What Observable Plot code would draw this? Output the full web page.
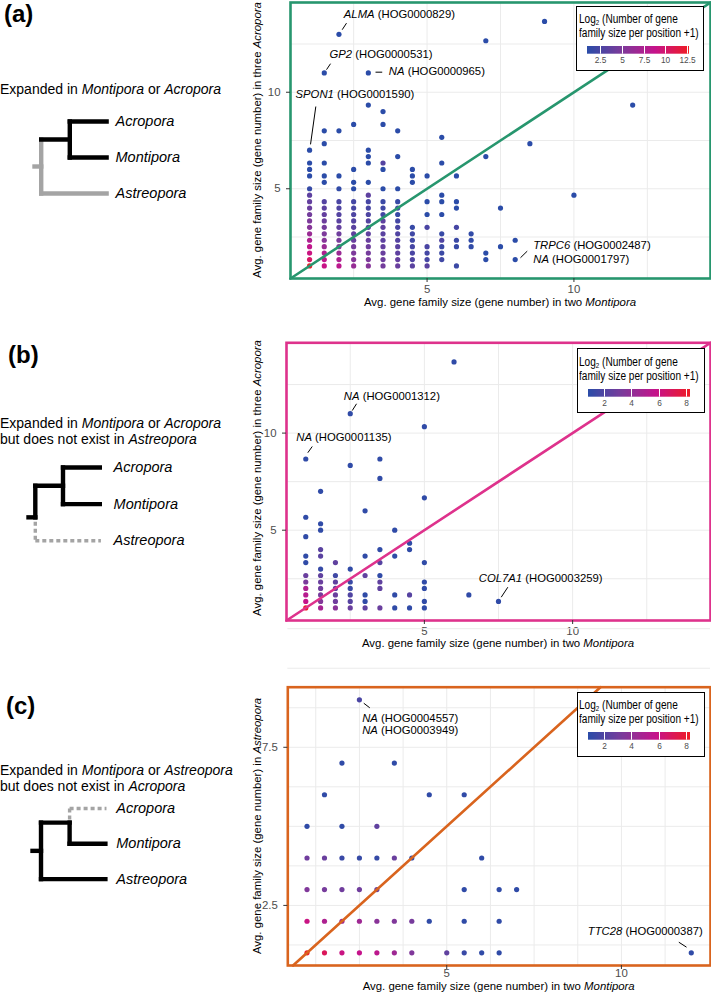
<!DOCTYPE html>
<html><head><meta charset="utf-8">
<script src="https://cdn.jsdelivr.net/npm/d3@7"></script>
<script src="https://cdn.jsdelivr.net/npm/@observablehq/plot@0.6"></script>
<style>
body{margin:0;background:#fff;}
#page{position:relative;width:711px;height:992px;overflow:hidden;font-family:"Liberation Sans",Arial,Helvetica,sans-serif;color:#000;}
.abs{position:absolute;}
.plabel{font-weight:bold;font-size:24px;line-height:24px;}
.desc{font-size:14px;line-height:16.4px;white-space:nowrap;}
.xtitle{font-size:11.4px;line-height:12px;white-space:nowrap;transform:translate(-50%,-50%);}
.ytitle{font-size:11.4px;line-height:13px;white-space:nowrap;transform:translate(-50%,-50%) rotate(-90deg);}
.legbox{border:1.4px solid #000;background:#fff;box-sizing:border-box;}
.legtitle{font-size:12.3px;line-height:14px;white-space:nowrap;transform:scaleX(0.82);transform-origin:0 0;}
.legtitle sub{font-size:0.62em;line-height:0;vertical-align:-0.3em;}
.legbox .tick line{stroke:#fff;}
.legbox .tick text{fill:#4d4d4d;}
.scatter g[aria-label$="tick label"], .scatter g[aria-label$="tick label"] text{fill:#4d4d4d;}
.scatter g[aria-label="x-axis tick"], .scatter g[aria-label="y-axis tick"]{stroke:#333;}
</style>
</head><body><div id="page"></div>
<script>
// ---------- DATA ----------
// Panel (a): x = avg size in two Montipora, y = avg size in three Acropora, v = log2(count+1)
const aCols = [1, 1.5, 2, 2.5, 3, 3.5, 4, 4.5, 5, 5.5, 6, 6.5, 7, 7.5, 8, 8.5, 9, 10, 12];
const aYs = [
  [7, 6.333, 6, 5.667, 5, 4.667, 4.333, 4, 3.667, 3.333, 3, 2.667, 2.333, 2, 1.667, 1.333, 1],
  [11, 8, 7.333, 6.333, 5.667, 5.333, 4.333, 4, 3.667, 3.333, 3, 2.667, 2.333, 2, 1.667, 1.333, 1],
  [13, 8, 5.667, 5, 4.333, 4, 3.667, 3.333, 3, 2.667, 2.333, 2, 1.667, 1.333, 1],
  [8.333, 6, 5.333, 5, 4.333, 4, 3.667, 3.333, 3, 2.667, 2.333, 2, 1.667, 1.333, 1],
  [11, 9.333, 7, 6.667, 6.333, 5.333, 4.667, 4.333, 4, 3.667, 3.333, 3, 2.667, 2.333, 2, 1.667, 1.333, 1],
  [9, 8.333, 6.333, 6, 5, 4.333, 4, 3.667, 3.333, 3, 2.667, 2.333, 2, 1.667, 1.333, 1],
  [8, 6.667, 5, 4.333, 4, 3.667, 3.333, 3, 2.667, 2.333, 2, 1.667, 1.333, 1],
  [6, 5.667, 5.333, 3, 2.667, 2.333, 2, 1.667, 1.333, 1],
  [5.667, 4.333, 3.667, 3, 2, 1.667, 1.333, 1],
  [7.667, 6.333, 4.667, 4.333, 3.667, 2.667, 2.333, 2, 1.667, 1.333],
  [5.667, 4.333, 4, 3, 2.333, 2, 1],
  [2.667, 2.333, 2],
  [12.667, 6.667, 1.667, 1.333],
  [4, 2],
  [2.333, 1.333],
  [7.333],
  [13.667],
  [4.667],
  [9.333]
];
const aVs = [
  [1, 1, 1, 1, 1.5, 3.5, 3.8, 4.1, 4.5, 5, 5.5, 6.5, 7.5, 8.5, 9.2, 10.3, 12.6],
  [1, 1, 1, 1, 1, 1, 3, 3.5, 3.8, 4.2, 4.6, 5, 5.5, 6.5, 7.5, 8.5, 9],
  [1, 1, 1, 1.3, 2.5, 2.8, 3, 3.3, 3.8, 4.3, 4.8, 5.5, 6.5, 7.5, 8.3],
  [1, 1, 1, 1, 2.2, 2.4, 2.7, 3, 3.3, 3.6, 4, 4.5, 5, 5.5, 6.3],
  [1, 1, 1, 1, 1, 1, 3.5, 2.3, 2.4, 2.7, 3, 3.3, 3.6, 4, 4.3, 4.6, 5, 5.5],
  [1, 1, 3, 1, 1, 1.8, 2, 2.2, 3.5, 3.5, 3.3, 3.5, 3.8, 4, 4.2, 4.5],
  [1, 1, 1, 1.6, 2, 1.6, 2.2, 2.5, 2.8, 3, 3.3, 3.5, 3.8, 4],
  [1, 1, 1, 1.6, 2, 2, 2.3, 2.5, 2.8, 3.3],
  [1, 1, 1, 2.5, 2.5, 2.2, 2.3, 3.3],
  [1, 1, 1, 1, 1, 1.6, 2.8, 1.8, 1.8, 2],
  [1, 1, 1, 2.3, 1.8, 1.6, 1.8],
  [1.3, 1.3, 1.3],
  [1, 1, 1, 1],
  [1, 1],
  [1, 1],
  [1], [1], [1], [1]
];
const annA = [
  {gene: "ALMA", id: "(HOG0000829)", x: 2.165, y: 14.03, x1: 2.257, y1: 13.58, x2: 2.11, y2: 13.24},
  {gene: "GP2", id: "(HOG0000531)", x: 1.679, y: 11.94, x1: 1.713, y1: 11.48, x2: 1.576, y2: 11.17},
  {gene: "NA", id: "(HOG0000965)", x: 3.698, y: 11.08, x1: 3.245, y1: 11.04, x2: 3.473, y2: 11.04},
  {gene: "SPON1", id: "(HOG0001590)", x: 0.521, y: 9.9, x1: 1.212, y1: 9.26, x2: 1.032, y2: 7.3},
  {gene: "TRPC6", id: "(HOG0002487)", x: 8.614, y: 2.047},
  {gene: "NA", id: "(HOG0001797)", x: 8.614, y: 1.337, x1: 8.41, y1: 1.767, x2: 8.18, y2: 1.425}
];

// Panel (b)
const bCols = [1, 1.5, 2, 2.5, 3, 3.5, 4, 4.5, 5, 6, 6.5, 7.5];
const bYs = [
  [8.667, 5.667, 4.667, 3.667, 3.333, 2.667, 2.333, 2, 1.667, 1.333, 1],
  [7, 5.333, 5, 4, 3.667, 3, 2.667, 2.333, 2, 1.667, 1.333, 1],
  [3.333, 2.667, 2.333, 2, 1.667, 1.333, 1],
  [11, 8.333, 3, 2.333, 2, 1.667, 1.333, 1],
  [6, 3.667, 2.667, 1.667, 1.333, 1],
  [8.667, 7.667, 4, 3.333, 2.667, 2.333, 2, 1],
  [5, 3.667, 1.667, 1],
  [4.333, 4, 1.667, 1],
  [10.333, 6.667, 3.333, 2.333, 2, 1.333, 1],
  [13.667],
  [1.667],
  [1.333]
];
const bVs = [
  [1, 1, 1, 1, 1, 2.8, 3.3, 5, 5.3, 5.8, 8.2],
  [1, 1, 1, 2.3, 2.3, 1.2, 2.5, 2.8, 3, 3.2, 3.6, 4.8],
  [2.5, 1.5, 2.5, 2.5, 2.8, 3, 3.8],
  [1, 1, 1, 1.3, 1.3, 2, 2.2, 2.8],
  [1, 1, 2.5, 1, 1, 2.5],
  [1, 1, 1, 2.2, 1, 2.5, 2.5, 2.8],
  [1, 1, 1, 1],
  [1, 1, 2.2, 1],
  [1, 1, 1, 1, 1, 1, 1],
  [1], [1], [1]
];
const annB = [
  {gene: "NA", id: "(HOG0001312)", x: 2.283, y: 11.9, x1: 2.712, y1: 11.51, x2: 2.567, y2: 11.16},
  {gene: "NA", id: "(HOG0001135)", x: 0.678, y: 9.76, x1: 1.218, y1: 9.31, x2: 1.069, y2: 8.99},
  {gene: "COL7A1", id: "(HOG0003259)", x: 6.836, y: 2.497, x1: 7.815, y1: 2.065, x2: 7.592, y2: 1.55}
];

// Panel (c): y = size in Astreopora
const cCols = [1, 1.5, 2, 2.5, 3, 3.5, 4, 4.5, 5, 5.5, 6, 6.5, 7, 12];
const cYs = [
  [5, 4, 3, 2, 1],
  [6, 4, 3, 2, 1],
  [7, 5, 4, 3, 2, 1],
  [9, 4, 3, 2, 1],
  [5, 4, 3, 2, 1],
  [7, 4, 2, 1],
  [4, 2, 1],
  [6, 2],
  [1],
  [6, 3, 2, 1],
  [4, 1],
  [3, 2, 1],
  [3],
  [1]
];
const cVs = [
  [1, 3, 3.5, 6, 8.3],
  [1, 2.8, 3.2, 5, 7],
  [1, 1, 1.3, 3, 4.5, 6],
  [1.8, 1.2, 3, 4.5, 5.8],
  [2.5, 1.2, 2.8, 3.8, 5.5],
  [1, 2.8, 3.5, 4.5],
  [1, 3.2, 3.5],
  [1, 1],
  [2.5],
  [1, 1, 1, 1.3],
  [1, 1],
  [1, 1, 1],
  [1],
  [1]
];
const annC = [
  {gene: "NA", id: "(HOG0004557)", x: 2.579, y: 8.4, x1: 2.625, y1: 8.893, x2: 2.797, y2: 8.748},
  {gene: "NA", id: "(HOG0003949)", x: 2.579, y: 8.03},
  {gene: "TTC28", id: "(HOG0000387)", x: 9.038, y: 1.676, x1: 11.643, y1: 1.337, x2: 11.864, y2: 1.179}
];

// tick labels / grid
const ticksAB = [5, 10];
const gridAB = [2.5, 5, 7.5, 10, 12.5];
const ticksCx = [5, 10];
const ticksCy = [2.5, 7.5];
const gridC = [1.25, 2.5, 3.75, 5, 6.25, 7.5, 8.75, 10, 11.25];
const legTicksA = [2.5, 5, 7.5, 10, 12.5];
const legTicksBC = [2, 4, 6, 8];

// trees: branch = [fromDepth, fromRow, toDepth, toRow]
const taxa = ["Acropora", "Montipora", "Astreopora"];
const treeA = {
  solid: [[1, 0.5, 2, 0.5], [2, 0, 2, 1], [2, 0, 3, 0], [2, 1, 3, 1]],
  gray: [[0, 1.25, 1, 1.25], [1, 0.5, 1, 2], [1, 2, 3, 2]],
  dashed: []
};
const treeB = {
  solid: [[0, 1.36, 1, 1.36], [1, 0.5, 1, 1.36], [1, 0.5, 2, 0.5], [2, 0, 2, 1], [2, 0, 3, 0], [2, 1, 3, 1]],
  gray: [],
  dashed: [[1, 1.48, 1, 2], [1, 2, 3.03, 2]]
};
const treeC = {
  solid: [[0, 1.2, 1, 1.2], [1, 0.4, 1, 2], [1, 0.4, 2, 0.4], [2, 0.4, 2, 1], [2, 1, 3, 1], [1, 2, 3, 2]],
  gray: [],
  dashed: [[2, 0, 2, 0.33], [2, 0, 3.03, 0]]
};

// ---------- RENDER ----------
const FONT = '"Liberation Sans", Arial, Helvetica, sans-serif';
const RAMP = d3.piecewise(d3.interpolateRgb, ["#2b4ca8", "#7b3b9b", "#c6138b", "#ef1c25"]);
const page = document.getElementById("page");
const NS = "http://www.w3.org/2000/svg";

function div(cls, html, style) {
  const d = document.createElement("div");
  d.className = "abs " + cls;
  d.innerHTML = html;
  Object.assign(d.style, style);
  page.appendChild(d);
  return d;
}

function italicize(svg) {
  svg.querySelectorAll('g[aria-label="text"] text').forEach(t => {
    const s = t.textContent;
    if (!s.includes("|")) return;
    const [a, b] = s.split("|");
    t.textContent = "";
    const t1 = document.createElementNS(NS, "tspan");
    t1.setAttribute("font-style", "italic");
    t1.textContent = a;
    const t2 = document.createElementNS(NS, "tspan");
    t2.textContent = " " + b;
    t.append(t1, t2);
  });
}

function scatter(p) {
  const pts = [];
  p.cols.forEach((x, i) => p.ys[i].forEach((y, j) => pts.push({x, y, v: (p.vs[i] || [])[j] ?? 1})));
  const lo = Math.max(p.xDomain[0], p.yDomain[0]);
  const hi = Math.min(p.xDomain[1], p.yDomain[1]);
  const fmt = d => String(d);
  const plot = Plot.plot({
    width: 481, height: p.height,
    marginLeft: p.mL, marginRight: 1, marginTop: p.mT, marginBottom: p.mB,
    style: {fontFamily: FONT, fontSize: "11.4px", background: "transparent", overflow: "visible"},
    x: {domain: p.xDomain},
    y: {domain: p.yDomain},
    color: {type: "linear", domain: p.cDomain, interpolate: RAMP, clamp: true, label: null},
    marks: [
      Plot.ruleX(p.gridX, {stroke: "#ebebeb", strokeWidth: 1}),
      Plot.ruleY(p.gridY, {stroke: "#ebebeb", strokeWidth: 1}),
      Plot.dot(pts, {x: "x", y: "y", fill: "v", r: 2.6}),
      Plot.line([[lo, lo], [hi, hi]], {stroke: p.color, strokeWidth: 2.6}),
      Plot.link(p.ann.filter(d => d.x1 != null), {x1: "x1", y1: "y1", x2: "x2", y2: "y2", stroke: "#000", strokeWidth: 1}),
      Plot.text(p.ann, {x: "x", y: "y", text: d => d.gene + "|" + d.id, textAnchor: "start", fontSize: 11.3, fill: "#000"}),
      Plot.frame({stroke: p.color, strokeWidth: 2.6}),
      Plot.axisX({ticks: p.ticksX, tickFormat: fmt, tickSize: 4, tickPadding: p.xPad, label: null}),
      Plot.axisY({ticks: p.ticksY, tickFormat: fmt, tickSize: 4, tickPadding: 6, label: null})
    ]
  });
  plot.classList.add("scatter");
  Object.assign(plot.style, {position: "absolute", left: "230px", top: p.top + "px"});
  page.appendChild(plot);
  italicize(plot);

  // legend box
  const box = div("legbox", "", {left: p.legLeft + "px", top: p.legTop + "px", width: "128px", height: "65px"});
  const t = document.createElement("div");
  t.className = "abs legtitle";
  t.innerHTML = "Log<sub>2</sub> (Number of gene<br>family size per position +1)";
  Object.assign(t.style, {left: "1.8px", top: "5.4px"});
  box.appendChild(t);
  const leg = plot.legend("color", {
    legend: "ramp", width: 124, height: 22, marginTop: 2, marginBottom: 12.3,
    marginLeft: 10, marginRight: 12, ticks: p.legTicks, tickFormat: fmt, tickSize: 0, label: null,
    style: {fontFamily: FONT, fontSize: "8.3px", background: "transparent", overflow: "visible"}
  });
  Object.assign(leg.style, {position: "absolute", left: "0px", top: "37.4px"});
  box.appendChild(leg);

  div("xtitle", p.xTitle, {left: p.xTitlePos[0] + "px", top: p.xTitlePos[1] + "px"});
  div("ytitle", p.yTitle, {left: p.yTitlePos[0] + "px", top: p.yTitlePos[1] + "px"});
}

function tree(t, cfg) {
  const W = 220, padL = 10, padT = 25;
  const H = 2 * cfg.gap + 50;
  const X = i => cfg.depth[Math.floor(i)] + (i % 1) * (cfg.depth[3] - cfg.depth[2]);
  const plot = Plot.plot({
    width: W, height: H, margin: 0, marginLeft: 0, marginRight: 0, marginTop: 0, marginBottom: 0,
    style: {fontFamily: FONT, background: "transparent", overflow: "visible"},
    x: {domain: [-padL, W - padL], range: [0, W], axis: null},
    y: {domain: [0, 2], range: [padT, padT + 2 * cfg.gap], axis: null},
    marks: [
      Plot.link(t.gray, {x1: d => X(d[0]), y1: d => d[1], x2: d => X(d[2]), y2: d => d[3], stroke: "#a4a4a4", strokeWidth: 4.4, strokeLinecap: "square"}),
      Plot.link(t.dashed, {x1: d => X(d[0]), y1: d => d[1], x2: d => X(d[2]), y2: d => d[3], stroke: "#a4a4a4", strokeWidth: 3.4, strokeDasharray: "4 3"}),
      Plot.link(t.solid, {x1: d => X(d[0]), y1: d => d[1], x2: d => X(d[2]), y2: d => d[3], stroke: "#000", strokeWidth: 4.4, strokeLinecap: "square"}),
      Plot.text(taxa, {x: cfg.labelX, y: (d, i) => i, text: d => d, textAnchor: "start", fontStyle: "italic", fontSize: 14.5, fill: "#000"})
    ]
  });
  Object.assign(plot.style, {position: "absolute", left: (cfg.left - padL) + "px", top: (cfg.rowTop - padT) + "px"});
  page.appendChild(plot);
}

const yTitleAcro = "Avg. gene family size (gene number) in three <i>Acropora</i>";
const yTitleAstr = "Avg. gene family size (gene number) in <i>Astreopora</i>";
const xTitleMont = "Avg. gene family size (gene number) in two <i>Montipora</i>";

scatter({cols: aCols, ys: aYs, vs: aVs, ann: annA, top: 0, height: 300, mT: 2, mB: 22, mL: 60, xPad: 2,
  xDomain: [0.35, 14.65], yDomain: [0.35, 14.65], cDomain: [1, 12.7], ticksX: ticksAB, ticksY: ticksAB,
  gridX: gridAB, gridY: gridAB, color: "#27966e", legTicks: legTicksA, legLeft: 576, legTop: 6,
  xTitle: xTitleMont, xTitlePos: [500, 302.3], yTitle: yTitleAcro, yTitlePos: [257, 140]});
scatter({cols: bCols, ys: bYs, vs: bVs, ann: annB, top: 330, height: 320, mT: 12.3, mB: 30, mL: 56, xPad: 2,
  xDomain: [0.35, 14.65], yDomain: [0.35, 14.65], cDomain: [0.85, 8.3], ticksX: ticksAB, ticksY: ticksAB,
  gridX: gridAB, gridY: gridAB, color: "#de328c", legTicks: legTicksBC, legLeft: 576.5, legTop: 348.3,
  xTitle: xTitleMont, xTitlePos: [498, 643.3], yTitle: yTitleAcro, yTitlePos: [257, 478]});
scatter({cols: cCols, ys: cYs, vs: cVs, ann: annC, top: 670, height: 322, mT: 16.7, mB: 27, mL: 57.3, xPad: -0.5,
  xDomain: [0.45, 12.55], yDomain: [0.6, 9.4], cDomain: [0.85, 8.3], ticksX: ticksCx, ticksY: ticksCy,
  gridX: gridC, gridY: gridC, color: "#d9641e", legTicks: legTicksBC, legLeft: 576.5, legTop: 691.7,
  xTitle: xTitleMont, xTitlePos: [498.7, 985.6], yTitle: yTitleAstr, yTitlePos: [257, 826]});

// left column
div("plabel", "(a)", {left: "4px", top: "2px"});
div("plabel", "(b)", {left: "8px", top: "343px"});
div("plabel", "(c)", {left: "6px", top: "694px"});
div("desc", "Expanded in <i>Montipora</i> or <i>Acropora</i>", {left: "0px", top: "80.8px"});
div("desc", "Expanded in <i>Montipora</i> or <i>Acropora</i><br>but does not exist in <i>Astreopora</i>", {left: "0px", top: "414.5px"});
div("desc", "Expanded in <i>Montipora</i> or <i>Astreopora</i><br>but does not exist in <i>Acropora</i>", {left: "0px", top: "761.8px"});

tree(treeA, {left: 34, rowTop: 120.7, gap: 36, depth: [0, 6.7, 35.3, 72.1], labelX: 81});
tree(treeB, {left: 28.2, rowTop: 466.7, gap: 36.65, depth: [0, 6.8, 34.5, 71.3], labelX: 85.1});
tree(treeC, {left: 32.2, rowTop: 807.7, gap: 35.3, depth: [0, 8.5, 37.1, 72.9], labelX: 83.8});
</script></body></html>
